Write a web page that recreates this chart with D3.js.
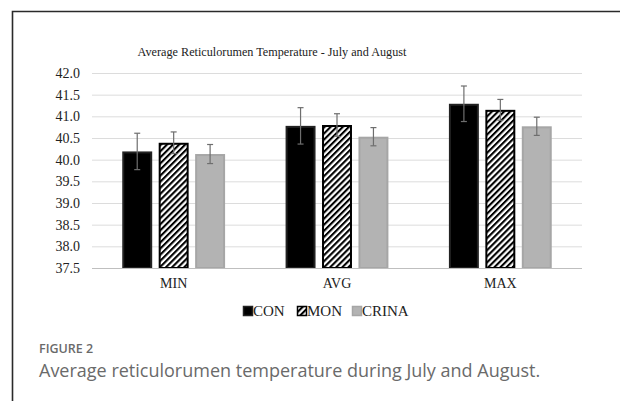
<!DOCTYPE html>
<html><head><meta charset="utf-8">
<script src="https://cdn.jsdelivr.net/npm/d3@7"></script>
<style>body{margin:0;background:#fff;}svg{display:block;}</style>
</head><body>
<script>
const categories = ["MIN", "AVG", "MAX"];
const seriesNames = ["CON", "MON", "CRINA"];
const conValues = [40.19, 40.78, 41.29];
const monValues = [40.39, 40.80, 41.15];
const crinaValues = [40.13, 40.53, 40.77];
const conErr = [0.42, 0.42, 0.41];
const monErr = [0.25, 0.26, 0.24];
const crinaErr = [0.22, 0.21, 0.21];
const yTicks = [37.5, 38.0, 38.5, 39.0, 39.5, 40.0, 40.5, 41.0, 41.5, 42.0];
const titleText = "Average Reticulorumen Temperature - July and August";
const figLabel = "FIGURE 2";
const captionText = "Average reticulorumen temperature during July and August.";

const W = 620, H = 401;
const SERIF = "'Liberation Serif', 'Times New Roman', serif";
const svg = d3.select("body").append("svg").attr("width", W).attr("height", H);
const defs = svg.append("defs");
const pat = defs.append("pattern").attr("id", "hatch").attr("patternUnits", "userSpaceOnUse")
  .attr("width", 4.3).attr("height", 4.3).attr("patternTransform", "rotate(45)");
pat.append("rect").attr("width", 4.3).attr("height", 4.3).attr("fill", "#fff");
pat.append("line").attr("x1", 0).attr("y1", 0).attr("x2", 0).attr("y2", 4.3)
  .attr("stroke", "#000").attr("stroke-width", 4.2);

// frame
svg.append("path").attr("d", "M12.5,401 V11.5 H620").attr("fill", "none").attr("stroke", "#2a2a2a").attr("stroke-width", 1.6);

const pLeft = 92, pRight = 582, pTop = 73, pBottom = 268;
const y = d3.scaleLinear().domain([37.5, 42.0]).range([pBottom, pTop]);
const x0 = d3.scaleBand().domain(categories).range([pLeft, pRight]).paddingInner(0).paddingOuter(0);
const x1 = d3.scaleBand().domain(seriesNames).range([0, x0.bandwidth()]).paddingInner(0.178).paddingOuter(0.83);

// gridlines
svg.append("g").selectAll("line").data(yTicks.slice(1)).join("line")
  .attr("x1", pLeft).attr("x2", pRight).attr("y1", d => y(d) + 0.5).attr("y2", d => y(d) + 0.5)
  .attr("stroke", "#dcdcdc").attr("stroke-width", 1);

// y axis labels
const yAxis = d3.axisLeft(y).tickValues(yTicks).tickFormat(d3.format(".1f")).tickSize(0).tickPadding(12);
const ya = svg.append("g").attr("transform", `translate(${pLeft},0)`).call(yAxis);
ya.attr("font-family", null).attr("font-size", null);
ya.select(".domain").remove();
ya.selectAll("text").style("font-family", SERIF).style("font-size", "14px").attr("fill", "#222");

const valuesBy = { CON: conValues, MON: monValues, CRINA: crinaValues };
const errBy = { CON: conErr, MON: monErr, CRINA: crinaErr };
const fillBy = { CON: "#000", MON: "url(#hatch)", CRINA: "#b3b3b3" };
const strokeBy = { CON: "#222", MON: "#000", CRINA: "#a6a6a6" };

const data = [];
categories.forEach((c, i) => seriesNames.forEach(s => data.push({ c, s, v: valuesBy[s][i], e: errBy[s][i] })));

svg.append("g").selectAll("rect").data(data).join("rect")
  .attr("x", d => x0(d.c) + x1(d.s) + 1)
  .attr("y", d => y(d.v) + 1)
  .attr("width", x1.bandwidth() - 2)
  .attr("height", d => pBottom - y(d.v) - 1)
  .attr("fill", d => fillBy[d.s])
  .attr("stroke", d => strokeBy[d.s])
  .attr("stroke-width", 2);

// x axis line
svg.append("line").attr("x1", pLeft).attr("x2", pRight).attr("y1", pBottom + 0.5).attr("y2", pBottom + 0.5)
  .attr("stroke", "#bfbfbf").attr("stroke-width", 1.2);

// error bars
const eg = svg.append("g").attr("stroke", "#6e6e6e").attr("stroke-width", 1.2);
data.forEach(d => {
  const cx = x0(d.c) + x1(d.s) + x1.bandwidth() / 2;
  eg.append("line").attr("x1", cx).attr("x2", cx).attr("y1", y(d.v + d.e)).attr("y2", y(d.v - d.e));
  eg.append("line").attr("x1", cx - 3).attr("x2", cx + 3).attr("y1", y(d.v + d.e)).attr("y2", y(d.v + d.e));
  eg.append("line").attr("x1", cx - 3).attr("x2", cx + 3).attr("y1", y(d.v - d.e)).attr("y2", y(d.v - d.e));
});

// category labels
const xAxis = d3.axisBottom(x0).tickSize(0).tickPadding(10);
const xa = svg.append("g").attr("transform", `translate(0,${pBottom})`).call(xAxis);
xa.attr("font-family", null).attr("font-size", null);
xa.select(".domain").remove();
xa.selectAll("text").style("font-family", SERIF).style("font-size", "14px").attr("fill", "#222");

// title
svg.append("text").attr("x", 272).attr("y", 56).attr("text-anchor", "middle")
  .style("font-family", SERIF).style("font-size", "12.2px").attr("fill", "#222").text(titleText);

// legend
const legX = [243, 297, 352];
const lg = svg.append("g");
seriesNames.forEach((s, i) => {
  lg.append("rect").attr("x", legX[i] + 0.5).attr("y", 306.5).attr("width", 9).attr("height", 9)
    .attr("fill", fillBy[s]).attr("stroke", strokeBy[s]).attr("stroke-width", 1.5);
  lg.append("text").attr("x", legX[i] + 10).attr("y", 316).style("font-family", SERIF)
    .style("font-size", "15px").attr("fill", "#222").text(s);
});

// caption
svg.append("text").attr("x", 39).attr("y", 353).style("font-family", "'Open Sans'").style("font-size", "12.5px")
  .style("font-weight", 600).attr("fill", "#6a6a6a").text(figLabel);
svg.append("text").attr("x", 39).attr("y", 377).style("font-family", "'Open Sans'").style("font-size", "18px")
  .attr("fill", "#6a6a6a").text(captionText);
</script>
</body></html>
